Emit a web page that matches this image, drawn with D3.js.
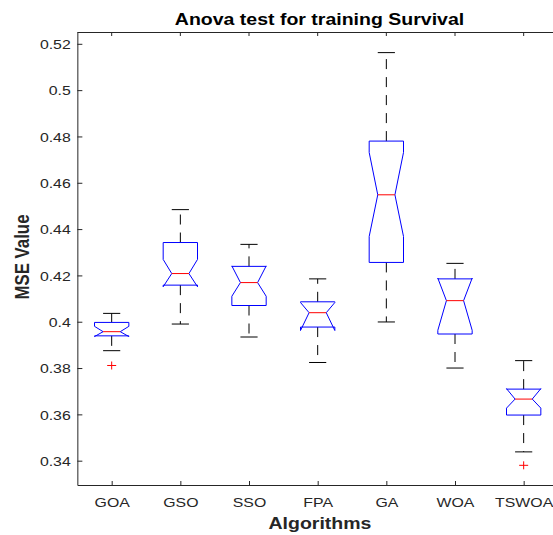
<!DOCTYPE html>
<html>
<head>
<meta charset="utf-8">
<script src="https://cdn.jsdelivr.net/npm/d3@7"></script>
<style>
  body { margin: 0; background: #fff; }
  svg { display: block; font-family: "Liberation Sans", Arial, sans-serif; }
</style>
</head>
<body>
<svg width="553" height="535"></svg>
<script>
// values
const categories   = ["GOA", "GSO", "SSO", "FPA", "GA", "WOA", "TSWOA"];
const upperWhisker = [0.4036, 0.4484, 0.4334, 0.4185, 0.5162, 0.4252, 0.3832];
const q3           = [0.3997, 0.4342, 0.4239, 0.4086, 0.4780, 0.4185, 0.3709];
const median       = [0.3957, 0.4208, 0.4169, 0.4039, 0.4548, 0.4091, 0.3666];
const q1           = [0.3939, 0.4158, 0.4070, 0.3977, 0.4256, 0.3947, 0.3597];
const lowerWhisker = [0.3875, 0.3990, 0.3934, 0.3824, 0.3999, 0.3800, 0.3438];
const notchHigh    = [0.3980, 0.4269, 0.4241, 0.4083, 0.4731, 0.4188, 0.3711];
const notchLow     = [0.3936, 0.4151, 0.4110, 0.3962, 0.4368, 0.3963, 0.3627];
const outliers     = [
  { algo: "GOA",   value: 0.3811 },
  { algo: "TSWOA", value: 0.3380 }
];
const yTicks = [0.34, 0.36, 0.38, 0.40, 0.42, 0.44, 0.46, 0.48, 0.50, 0.52];

const svg = d3.select("svg"),
      plotLeft = 77.35, plotRight = 558, plotTop = 32, plotBottom = 485,
      stretch = 1.22; // the picture is a bit wider than tall

const x = d3.scalePoint()
  .domain(categories)
  .range([plotLeft, plotRight])
  .padding(0.5);

const y = d3.scaleLinear()
  .domain([0.3295, 0.5251])
  .range([plotBottom, plotTop]);

const boxes = categories.map((c, i) => ({
  name: c,
  hi: upperWhisker[i], q3: q3[i], med: median[i], q1: q1[i], lo: lowerWhisker[i],
  nh: notchHigh[i], nl: notchLow[i]
}));

// axes
const gY = svg.append("g")
  .attr("transform", `translate(${plotLeft},0)`)
  .call(d3.axisLeft(y).tickValues(yTicks).tickSizeInner(-5).tickSizeOuter(0).tickFormat(d3.format("")));
gY.selectAll("text")
  .attr("x", -5.4)
  .attr("dy", "0.36em")
  .attr("transform", `scale(${stretch},1)`)
  .attr("font-size", 13)
  .attr("fill", "#262626");

const gX = svg.append("g")
  .attr("transform", `translate(0,${plotBottom})`)
  .call(d3.axisBottom(x).tickSizeInner(-4).tickSizeOuter(0));
gX.selectAll("text")
  .attr("y", 22)
  .attr("dy", 0)
  .attr("transform", `scale(${stretch},1)`)
  .attr("font-size", 13)
  .attr("fill", "#262626");

svg.selectAll(".domain, .tick line").attr("stroke", "#262626");

// top frame line with its ticks
svg.append("line")
  .attr("x1", plotLeft).attr("x2", plotRight)
  .attr("y1", plotTop + 0.5).attr("y2", plotTop + 0.5)
  .attr("stroke", "#262626");
svg.selectAll("line.top-tick")
  .data(categories)
  .join("line")
    .attr("class", "top-tick")
    .attr("x1", d => x(d)).attr("x2", d => x(d))
    .attr("y1", plotTop).attr("y2", plotTop + 4)
    .attr("stroke", "#262626");

// boxes
const half = x.step() * 0.25;
const g = svg.selectAll("g.box")
  .data(boxes)
  .join("g")
    .attr("class", "box");

g.append("line")
  .attr("x1", d => x(d.name)).attr("x2", d => x(d.name))
  .attr("y1", d => y(d.q3)).attr("y2", d => y(d.hi))
  .attr("stroke", "#000").attr("stroke-dasharray", "10,8");
g.append("line")
  .attr("x1", d => x(d.name)).attr("x2", d => x(d.name))
  .attr("y1", d => y(d.q1)).attr("y2", d => y(d.lo))
  .attr("stroke", "#000").attr("stroke-dasharray", "10,8");

// whisker caps
g.append("line")
  .attr("x1", d => x(d.name) - half / 2).attr("x2", d => x(d.name) + half / 2)
  .attr("y1", d => y(d.hi)).attr("y2", d => y(d.hi))
  .attr("stroke", "#000");
g.append("line")
  .attr("x1", d => x(d.name) - half / 2).attr("x2", d => x(d.name) + half / 2)
  .attr("y1", d => y(d.lo)).attr("y2", d => y(d.lo))
  .attr("stroke", "#000");

// notched box outline
g.append("path")
  .attr("d", d => {
    const cx = x(d.name);
    return d3.line()([
      [cx - half, y(d.q3)], [cx - half, y(d.nh)], [cx - half / 2, y(d.med)],
      [cx - half, y(d.nl)], [cx - half, y(d.q1)], [cx + half, y(d.q1)],
      [cx + half, y(d.nl)], [cx + half / 2, y(d.med)], [cx + half, y(d.nh)],
      [cx + half, y(d.q3)]
    ]) + "Z";
  })
  .attr("fill", "none")
  .attr("stroke", "#0000ff");

// median
g.append("line")
  .attr("x1", d => x(d.name) - half / 2).attr("x2", d => x(d.name) + half / 2)
  .attr("y1", d => y(d.med)).attr("y2", d => y(d.med))
  .attr("stroke", "#ff0000");

// outliers as red plus signs
svg.selectAll("path.outlier")
  .data(outliers)
  .join("path")
    .attr("class", "outlier")
    .attr("d", d => {
      const cx = x(d.algo), cy = y(d.value);
      return `M${cx - 4.5},${cy}H${cx + 4.5}M${cx},${cy - 4}V${cy + 4}`;
    })
    .attr("stroke", "#ff0000");

// titles
svg.append("text")
  .attr("transform", `translate(319.5,25) scale(${stretch},1)`)
  .attr("text-anchor", "middle")
  .attr("font-size", 16)
  .attr("font-weight", "bold")
  .text("Anova test for training Survival");

svg.append("text")
  .attr("transform", `translate(320,529) scale(${stretch},1)`)
  .attr("text-anchor", "middle")
  .attr("font-size", 16)
  .attr("font-weight", "bold")
  .attr("fill", "#262626")
  .text("Algorithms");

svg.append("text")
  .attr("transform", `translate(29.3,257) rotate(-90) scale(1.05,${stretch})`)
  .attr("text-anchor", "middle")
  .attr("font-size", 16)
  .attr("font-weight", "bold")
  .attr("fill", "#262626")
  .text("MSE Value");
</script>
</body>
</html>
